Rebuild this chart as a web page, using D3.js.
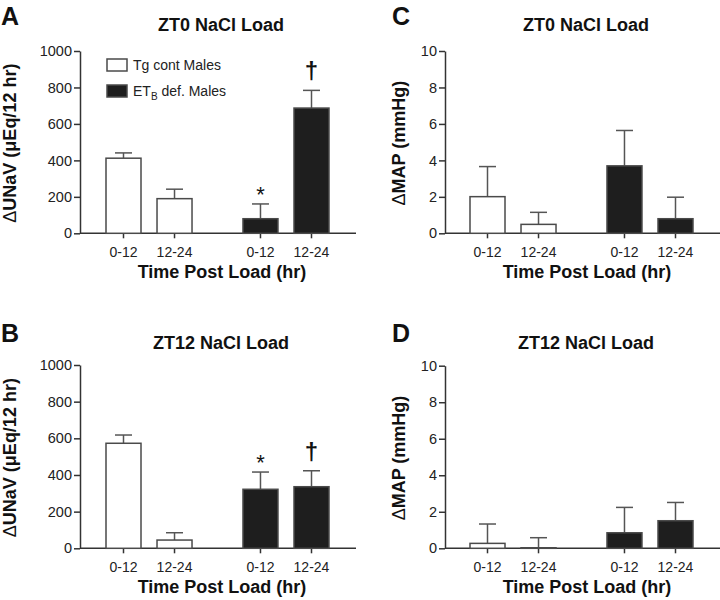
<!DOCTYPE html>
<html><head><meta charset="utf-8">
<script src="https://cdn.jsdelivr.net/npm/d3@7"></script>
<style>body{margin:0;background:#fff} svg{display:block}</style>
</head><body>
<svg id="c" width="720" height="600"></svg>
<script>
// ---------- data ----------
const groups = ["Tg cont Males", "ETB def. Males"];
const periods = ["0-12", "12-24"];
const yTicksUNaV = [0, 200, 400, 600, 800, 1000];
const yTicksMAP = [0, 2, 4, 6, 8, 10];
// order: Tg 0-12, Tg 12-24, ETB 0-12, ETB 12-24
const unavZT0 = [412, 190, 80, 687];
const unavZT0Err = [29, 52, 81, 97];
const unavZT12 = [573, 45, 322, 336];
const unavZT12Err = [45, 40, 94, 87];
const mapZT0 = [2.01, 0.49, 3.70, 0.80];
const mapZT0Err = [1.65, 0.66, 1.94, 1.18];
const mapZT12 = [0.27, 0.03, 0.85, 1.51];
const mapZT12Err = [1.06, 0.55, 1.39, 1.00];
const marksZT0 = ["", "", "*", "\u2020"];
const marksZT12 = ["", "", "*", "\u2020"];
const noMarks = ["", "", "", ""];

const FONT = "Arial, 'Liberation Sans', Helvetica, sans-serif";
const AX = "#333";
const svg = d3.select("#c").style("font-family", FONT);

const panels = [
  {letter: "A", title: "ZT0 NaCl Load", ylab: "UNaV (\u03bcEq/12 hr)", ticks: yTicksUNaV, max: 1000,
   vals: unavZT0, errs: unavZT0Err, marks: marksZT0, left: 80, right: 356, top: 51, bottom: 233.3,
   letterX: 1, letterY: 25, titleY: 31, ylabX: 16, xtY: 257, xtitleY: 278, legend: true},
  {letter: "B", title: "ZT12 NaCl Load", ylab: "UNaV (\u03bcEq/12 hr)", ticks: yTicksUNaV, max: 1000,
   vals: unavZT12, errs: unavZT12Err, marks: marksZT12, left: 80, right: 356, top: 365, bottom: 548.3,
   letterX: 1, letterY: 342, titleY: 349, ylabX: 16, xtY: 571.5, xtitleY: 593, legend: false},
  {letter: "C", title: "ZT0 NaCl Load", ylab: "MAP (mmHg)", ticks: yTicksMAP, max: 10,
   vals: mapZT0, errs: mapZT0Err, marks: noMarks, left: 445, right: 720, top: 51, bottom: 233.3,
   letterX: 392, letterY: 25, titleY: 31, ylabX: 405, xtY: 257, xtitleY: 278, legend: false},
  {letter: "D", title: "ZT12 NaCl Load", ylab: "MAP (mmHg)", ticks: yTicksMAP, max: 10,
   vals: mapZT12, errs: mapZT12Err, marks: noMarks, left: 445, right: 720, top: 365.7, bottom: 548.3,
   letterX: 392, letterY: 342, titleY: 349, ylabX: 405, xtY: 571.5, xtitleY: 593, legend: false}
];

panels.forEach(p => {
  const g = svg.append("g");
  const y = d3.scaleLinear().domain([0, p.max]).range([p.bottom, p.top]);
  const outer = d3.scaleBand().domain(groups).range([p.right - 250, p.right - 27]).paddingInner(0.372).paddingOuter(0);
  const inner = d3.scaleBand().domain(periods).range([0, outer.bandwidth()]).paddingInner(0.314).paddingOuter(0);
  const rows = [];
  groups.forEach((gr, gi) => periods.forEach((pe, pi) => {
    const i = gi * 2 + pi;
    rows.push({gr, pe, gi, v: p.vals[i], e: p.errs[i], m: p.marks[i]});
  }));
  const xc = d => outer(d.gr) + inner(d.pe) + inner.bandwidth() / 2;

  // panel letter & title
  g.append("text").attr("x", p.letterX).attr("y", p.letterY).text(p.letter)
    .attr("font-size", 25).attr("font-weight", "bold").attr("fill", "#111");
  g.append("text").attr("x", p.left + 141).attr("y", p.titleY).text(p.title)
    .attr("text-anchor", "middle").attr("font-size", 18).attr("font-weight", "bold").attr("fill", "#111");

  // y axis
  const ya = g.append("g").attr("transform", `translate(${p.left},0)`)
    .call(d3.axisLeft(y).tickValues(p.ticks).tickFormat(d3.format("d")).tickSize(6).tickSizeOuter(0).tickPadding(2));
  ya.select(".domain").attr("stroke", AX).attr("stroke-width", 1.5);
  ya.selectAll(".tick line").attr("stroke", AX).attr("stroke-width", 1.5);
  ya.selectAll(".tick text").attr("font-size", 14.5).attr("fill", "#222").attr("font-family", FONT);

  // x axis line
  g.append("line").attr("x1", p.left).attr("x2", p.right).attr("y1", p.bottom).attr("y2", p.bottom)
    .attr("stroke", AX).attr("stroke-width", 1.5);
  // x ticks
  g.selectAll(".xt").data(rows).join("line")
    .attr("x1", xc).attr("x2", xc).attr("y1", p.bottom).attr("y2", p.bottom + 5)
    .attr("stroke", AX).attr("stroke-width", 1.5);
  g.selectAll(".xl").data(rows).join("text")
    .attr("x", xc).attr("y", p.xtY).text(d => d.pe)
    .attr("text-anchor", "middle").attr("font-size", 14).attr("fill", "#222");

  // x title
  g.append("text").attr("x", p.left + 142).attr("y", p.xtitleY).text("Time Post Load (hr)")
    .attr("text-anchor", "middle").attr("font-size", 18).attr("font-weight", "bold").attr("fill", "#111");
  // y title (Δ drawn in normal weight as in the reference)
  const yt = g.append("text").attr("transform", `translate(${p.ylabX},${(p.top + p.bottom) / 2 + 1}) rotate(-90)`)
    .attr("text-anchor", "middle").attr("font-size", 18).attr("fill", "#111");
  yt.append("tspan").text("\u0394").attr("font-weight", "normal");
  yt.append("tspan").text(p.ylab).attr("font-weight", "bold");

  // error bars (upward)
  g.selectAll(".eb").data(rows).join("line")
    .attr("x1", xc).attr("x2", xc).attr("y1", d => y(d.v)).attr("y2", d => y(d.v + d.e))
    .attr("stroke", "#555").attr("stroke-width", 1.5);
  g.selectAll(".ec").data(rows).join("line")
    .attr("x1", d => xc(d) - 8.5).attr("x2", d => xc(d) + 8.5)
    .attr("y1", d => y(d.v + d.e)).attr("y2", d => y(d.v + d.e))
    .attr("stroke", "#555").attr("stroke-width", 1.5);

  // bars
  g.selectAll(".bar").data(rows).join("rect")
    .attr("x", d => outer(d.gr) + inner(d.pe))
    .attr("width", inner.bandwidth())
    .attr("y", d => y(d.v))
    .attr("height", d => y(0) - y(d.v))
    .attr("fill", d => d.gi === 0 ? "#fff" : "#1e1e1e")
    .attr("stroke", "#4a4a4a").attr("stroke-width", 1.5);

  // significance marks
  g.selectAll(".mk").data(rows.filter(d => d.m)).join("text")
    .attr("x", xc)
    .attr("y", d => y(d.v + d.e) - (d.m === "*" ? 2 : 11))
    .text(d => d.m)
    .attr("text-anchor", "middle")
    .attr("font-size", d => d.m === "*" ? 22 : 24)
    .attr("font-weight", d => d.m === "*" ? "normal" : "bold")
    .attr("fill", "#111");

  if (p.legend) {
    const lg = g.append("g");
    const items = [{n: groups[0], fill: "#fff", yy: 59}, {n: groups[1], fill: "#1e1e1e", yy: 85}];
    lg.selectAll("rect").data(items).join("rect")
      .attr("x", 107).attr("y", d => d.yy).attr("width", 20).attr("height", 12)
      .attr("fill", d => d.fill).attr("stroke", "#4a4a4a").attr("stroke-width", 1.5);
    lg.append("text").attr("x", 133).attr("y", 70).text(groups[0])
      .attr("font-size", 14).attr("fill", "#222");
    const t2 = lg.append("text").attr("x", 133).attr("y", 96).attr("font-size", 14).attr("fill", "#222");
    t2.append("tspan").text("ET");
    t2.append("tspan").text("B").attr("font-size", 10).attr("dy", 4);
    t2.append("tspan").text(" def. Males").attr("dy", -4);
  }
});
</script>
</body></html>
